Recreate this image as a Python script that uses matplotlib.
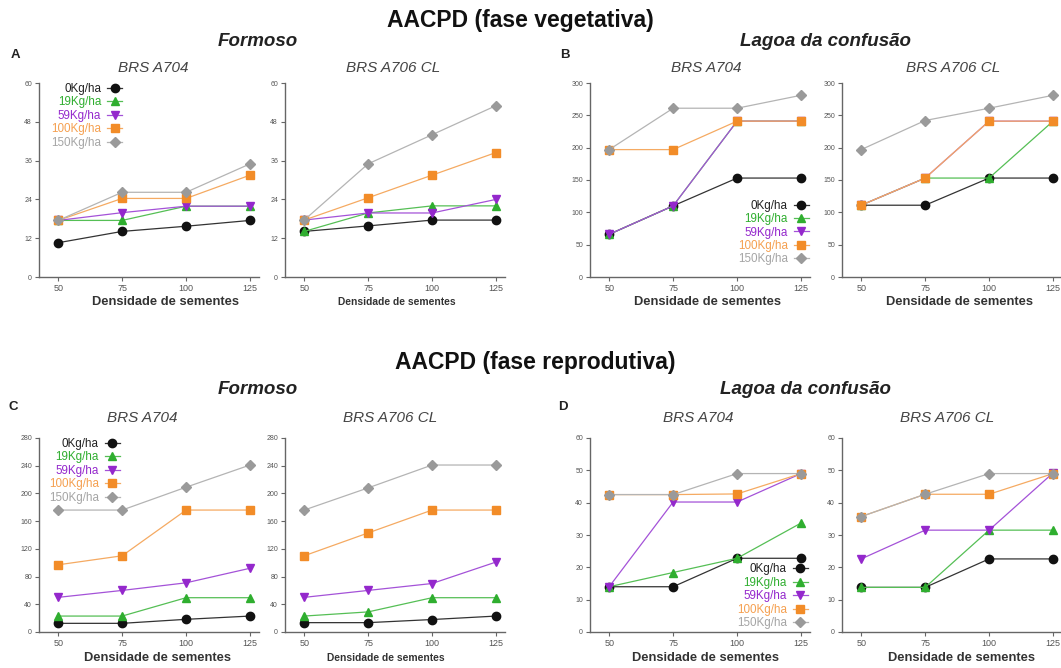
import matplotlib
matplotlib.use('Agg')
import matplotlib.pyplot as plt

plt.rcParams['font.family'] = ['Liberation Sans', 'DejaVu Sans']

W, H = 1061, 668
fig = plt.figure(figsize=(W / 100, H / 100), dpi=100)

density = [50, 75, 100, 125]
doses = ['0Kg/ha', '19Kg/ha', '59Kg/ha', '100Kg/ha', '150Kg/ha']
marker_colors = ['#111111', '#2fae2f', '#9428cc', '#f28c28', '#9a9a9a']
line_colors = ['#333333', '#55bf55', '#a452d8', '#f5aa62', '#b4b4b4']
text_colors = ['#222222', '#2fae2f', '#9428cc', '#f5a050', '#a5a5a5']
markers = ['o', '^', 'v', 's', 'D']

# AACPD vegetativa - Formoso
veg_formoso_a704 = [
    [10.6, 14.1, 15.7, 17.5],
    [17.5, 17.5, 21.9, 21.9],
    [17.5, 19.9, 21.9, 21.9],
    [17.5, 24.3, 24.3, 31.5],
    [17.5, 26.2, 26.2, 35.0],
]
veg_formoso_a706 = [
    [14.1, 15.8, 17.6, 17.6],
    [14.1, 19.8, 22.0, 22.0],
    [17.6, 19.8, 19.8, 24.0],
    [17.6, 24.5, 31.5, 38.5],
    [17.6, 35.0, 44.0, 53.0],
]
# AACPD vegetativa - Lagoa da confusão
veg_lagoa_a704 = [
    [66, 110, 153, 153],
    [66, 110, 241, 241],
    [66, 110, 241, 241],
    [197, 197, 241, 241],
    [197, 261, 261, 281],
]
veg_lagoa_a706 = [
    [111, 111, 153, 153],
    [111, 153, 153, 241],
    [111, 153, 241, 241],
    [111, 153, 241, 241],
    [197, 242, 261, 281],
]
# AACPD reprodutiva - Formoso
rep_formoso_a704 = [
    [12.5, 12.5, 18.3, 23],
    [23, 23, 49.5, 49.5],
    [50, 60, 71, 92],
    [97, 110, 176, 176],
    [176, 176, 209, 241],
]
rep_formoso_a706 = [
    [13.5, 13.5, 18, 23],
    [23, 29, 49.5, 49.5],
    [50, 60, 70, 101],
    [110, 143, 176, 176],
    [176, 208, 241, 241],
]
# AACPD reprodutiva - Lagoa da confusão
rep_lagoa_a704 = [
    [14, 14, 22.8, 22.8],
    [14, 18.4, 22.8, 33.7],
    [14, 40.2, 40.2, 49],
    [42.5, 42.5, 42.7, 49],
    [42.5, 42.5, 49, 49],
]
rep_lagoa_a706 = [
    [13.8, 13.8, 22.6, 22.6],
    [13.8, 13.8, 31.5, 31.5],
    [22.6, 31.5, 31.5, 49.2],
    [35.7, 42.6, 42.6, 49],
    [35.7, 42.6, 49, 49],
]

yticks_a = [0, 12, 24, 36, 48, 60]
yticks_b = [0, 50, 100, 150, 200, 250, 300]
yticks_c = [0, 40, 80, 120, 160, 200, 240, 280]
yticks_d = [0, 10, 20, 30, 40, 50, 60]

AX_W, AX_H = 220, 194


def add_ax(x0, ytop):
    return fig.add_axes([x0 / W, 1 - (ytop + AX_H) / H, AX_W / W, AX_H / H])


panels = [
    # x0, ytop, data, yticks, legend, xlabel fontsize, xlabel center, subtitle, subtitle x
    (39, 83, veg_formoso_a704, yticks_a, ('upper left', (0.055, 1.0)), 9.3, 166, 'BRS A704', 153),
    (285, 83, veg_formoso_a706, yticks_a, None, 7.4, 397, 'BRS A706 CL', 393),
    (590, 83, veg_lagoa_a704, yticks_b, ('lower right', (0.995, 0.06)), 9.3, 708, 'BRS A704', 706),
    (842, 83, veg_lagoa_a706, yticks_b, None, 9.3, 960, 'BRS A706 CL', 953),
    (39, 438, rep_formoso_a704, yticks_c, ('upper left', (0.045, 1.0)), 9.3, 158, 'BRS A704', 142),
    (285, 438, rep_formoso_a706, yticks_c, None, 7.4, 386, 'BRS A706 CL', 390),
    (590, 438, rep_lagoa_a704, yticks_d, ('lower right', (0.99, 0.015)), 9.3, 706, 'BRS A704', 698),
    (842, 438, rep_lagoa_a706, yticks_d, None, 9.3, 961, 'BRS A706 CL', 947),
]

for x0, ytop, data, yt, leg, xl_fs, xl_cx, sub, sub_x in panels:
    ax = add_ax(x0, ytop)
    for vals, lab, mc, lc, mk in zip(data, doses, marker_colors, line_colors, markers):
        ms = 5.2 if mk == 'D' else 6
        ax.plot(density, vals, color=lc, lw=0.9, marker=mk, markersize=ms,
                markerfacecolor=mc, markeredgecolor=mc, label=lab, clip_on=False)
    ax.set_xlim(42.5, 128.5)
    ax.set_ylim(yt[0], yt[-1])
    ax.set_xticks(density)
    ax.set_yticks(yt)
    for s in ('top', 'right'):
        ax.spines[s].set_visible(False)
    for s in ('left', 'bottom'):
        ax.spines[s].set_color('#666666')
        ax.spines[s].set_linewidth(1.0)
    ax.tick_params(axis='both', colors='#666666', length=3, width=0.8, pad=2)
    ax.tick_params(axis='y', labelsize=5, labelcolor='#555555')
    ax.tick_params(axis='x', labelsize=6.5, labelcolor='#555555')
    ax.set_facecolor('none')
    if leg is not None:
        loc, anchor = leg
        ax.legend(loc=loc, bbox_to_anchor=anchor, frameon=False, fontsize=8.4,
                  markerfirst=False, handlelength=1.3, handletextpad=0.5,
                  labelspacing=0.12, borderpad=0, borderaxespad=0,
                  labelcolor=text_colors)
    y_xl = 302 if ytop < 200 else 658
    fig.text(xl_cx / W, 1 - y_xl / H, 'Densidade de sementes', ha='center', va='center',
             fontsize=xl_fs, fontweight='bold', color='#333333')
    y_sub = 68 if ytop < 200 else 418
    fig.text(sub_x / W, 1 - y_sub / H, sub, ha='center', va='center',
             fontsize=11, fontstyle='italic', color='#444444')

# Headings
fig.text(520 / W, 1 - 20 / H, 'AACPD (fase vegetativa)', ha='center', va='center',
         fontsize=16.5, fontweight='bold', color='#111111')
fig.text(535 / W, 1 - 362 / H, 'AACPD (fase reprodutiva)', ha='center', va='center',
         fontsize=16.5, fontweight='bold', color='#111111')
for y, lx in ((41, 826), (390, 805)):
    fig.text(258 / W, 1 - y / H, 'Formoso', ha='center', va='center', fontsize=13.5,
             fontweight='bold', fontstyle='italic', color='#222222')
    fig.text(lx / W, 1 - y / H, 'Lagoa da confusão', ha='center', va='center', fontsize=13.5,
             fontweight='bold', fontstyle='italic', color='#222222')
for letter, x, y in (('A', 15, 55), ('B', 565, 55), ('C', 13, 407), ('D', 563, 407)):
    fig.text(x / W, 1 - y / H, letter, ha='center', va='center', fontsize=9.5,
             fontweight='bold', color='#222222')

fig.savefig('out.png', dpi=100, facecolor='white')
